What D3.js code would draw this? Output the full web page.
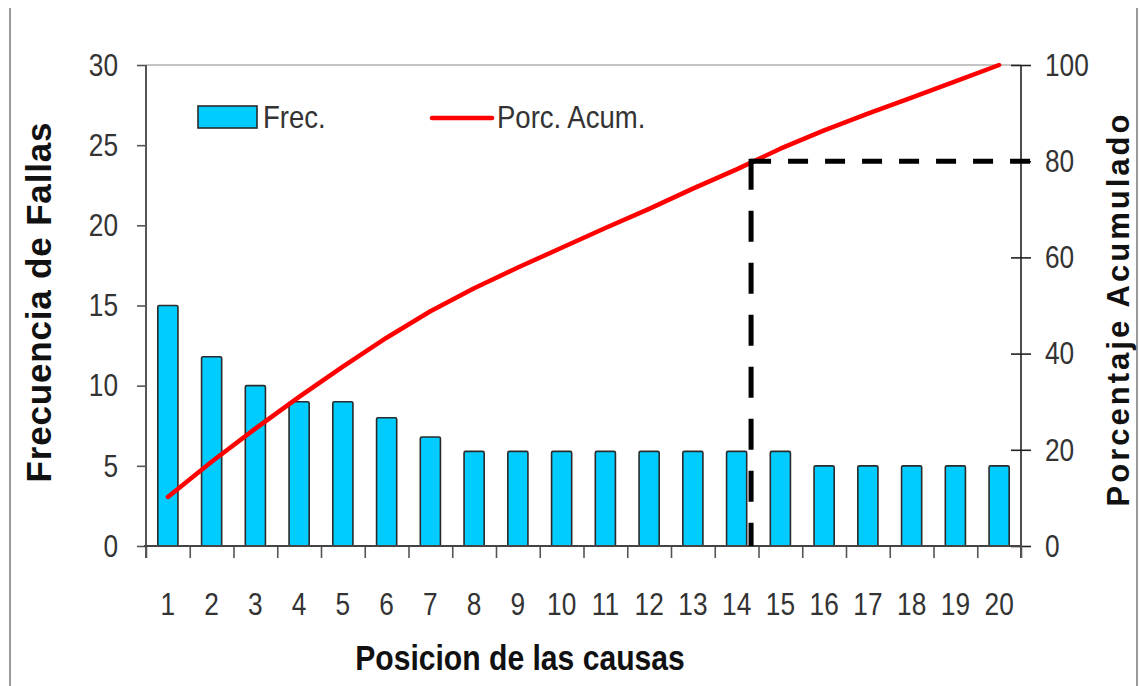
<!DOCTYPE html>
<html>
<head>
<meta charset="utf-8">
<script src="https://cdn.jsdelivr.net/npm/d3@7"></script>
<style>
  html, body { margin: 0; padding: 0; background: #fff; }
  svg { display: block; }
  text { font-family: "Liberation Sans", Arial, sans-serif; }
</style>
</head>
<body>
<svg id="chart" width="1139" height="686"></svg>
<script>
// Pareto data: failure frequency per cause and cumulative percentage
const causas = ["1","2","3","4","5","6","7","8","9","10","11","12","13","14","15","16","17","18","19","20"];
const frecuencia = [15, 11.8, 10, 9, 9, 8, 6.8, 5.9, 5.9, 5.9, 5.9, 5.9, 5.9, 5.9, 5.9, 5, 5, 5, 5, 5];
const porcAcum = [10.2, 17.5, 24.4, 31.0, 37.3, 43.3, 48.8, 53.6, 57.9, 62.0, 66.1, 70.1, 74.3, 78.3, 82.6, 86.4, 89.9, 93.2, 96.6, 100];
const ticksFrec = [0, 5, 10, 15, 20, 25, 30];
const ticksPorc = [0, 20, 40, 60, 80, 100];
const corteCausa = 14.33;   // vertical 80 % guide, in cause units
const cortePorc = 80;

const svg = d3.select("#chart");
const mLeft = 146, mRight = 1021, mTop = 65, mBottom = 546;

const x = d3.scaleBand().domain(causas).range([mLeft, mRight]).paddingInner(0.54).paddingOuter(0.27);
const xLin = d3.scaleLinear().domain([0.5, causas.length + 0.5]).range([mLeft, mRight]);
const yL = d3.scaleLinear().domain([0, 30]).range([mBottom, mTop]);
const yR = d3.scaleLinear().domain([0, 100]).range([mBottom, mTop]);

// squeeze text horizontally to imitate a narrow face
function condense(sel, k) {
  sel.each(function () {
    const w = this.getComputedTextLength();
    d3.select(this).attr("textLength", w * k).attr("lengthAdjust", "spacingAndGlyphs");
  });
}

// outer frame lines
svg.append("line").attr("x1", 10).attr("x2", 10).attr("y1", 8).attr("y2", 686)
  .attr("stroke", "#9a9a9a").attr("stroke-width", 2);
svg.append("line").attr("x1", 1137).attr("x2", 1137).attr("y1", 8).attr("y2", 686)
  .attr("stroke", "#9a9a9a").attr("stroke-width", 2);

// top border of plot area
svg.append("line").attr("x1", mLeft).attr("x2", mRight).attr("y1", mTop).attr("y2", mTop)
  .attr("stroke", "#8a8a8a").attr("stroke-width", 1.2);

// bars
svg.append("g").selectAll("rect").data(frecuencia).join("rect")
  .attr("x", (d, i) => x(causas[i]))
  .attr("y", d => yL(d))
  .attr("width", x.bandwidth())
  .attr("height", d => mBottom - yL(d))
  .attr("rx", 1.5)
  .attr("fill", "#00ccff")
  .attr("stroke", "#2a2a2a")
  .attr("stroke-width", 1.6);

// left axis
const gL = svg.append("g").attr("transform", `translate(${mLeft},0)`)
  .call(d3.axisLeft(yL).tickValues(ticksFrec).tickSizeInner(9).tickSizeOuter(0).tickPadding(19));
gL.select(".domain").remove();
gL.selectAll(".tick line").attr("stroke", "#555").attr("stroke-width", 1.6);
gL.selectAll("text").attr("font-size", 32).attr("fill", "#333").call(condense, 0.82);
svg.append("line").attr("x1", mLeft).attr("x2", mLeft).attr("y1", mTop).attr("y2", mBottom + 12)
  .attr("stroke", "#555").attr("stroke-width", 2);

// right axis
const gR = svg.append("g").attr("transform", `translate(${mRight},0)`)
  .call(d3.axisRight(yR).tickValues(ticksPorc).tickSizeInner(10).tickSizeOuter(0).tickPadding(14));
gR.select(".domain").remove();
gR.selectAll(".tick line").attr("x1", -10).attr("stroke", "#222").attr("stroke-width", 1.6);
gR.selectAll("text").attr("font-size", 32).attr("fill", "#333").call(condense, 0.82);
svg.append("line").attr("x1", mRight).attr("x2", mRight).attr("y1", mTop).attr("y2", mBottom + 12)
  .attr("stroke", "#222").attr("stroke-width", 1.6);

// bottom axis: boundary ticks and centred labels
const gB = svg.append("g").attr("transform", `translate(0,${mBottom})`)
  .call(d3.axisBottom(xLin).tickValues(d3.range(0.5, causas.length + 1, 1)).tickSizeInner(12).tickSizeOuter(0).tickFormat(""));
gB.select(".domain").remove();
gB.selectAll(".tick line").attr("stroke", "#555").attr("stroke-width", 1.6);
svg.append("line").attr("x1", mLeft - 2).attr("x2", mRight).attr("y1", mBottom).attr("y2", mBottom)
  .attr("stroke", "#444").attr("stroke-width", 2);

const gBL = svg.append("g").attr("transform", `translate(0,${mBottom})`)
  .call(d3.axisBottom(x).tickSize(0).tickPadding(46));
gBL.select(".domain").remove();
gBL.selectAll("text").attr("font-size", 32).attr("fill", "#333").call(condense, 0.82);

// cumulative percentage line
const line = d3.line().x((d, i) => x(causas[i]) + x.bandwidth() / 2).y(d => yR(d));
svg.append("path").datum(porcAcum)
  .attr("d", line)
  .attr("fill", "none")
  .attr("stroke", "#ff0000")
  .attr("stroke-width", 4.5)
  .attr("stroke-linejoin", "round")
  .attr("stroke-linecap", "round");

// 80 % guide lines
svg.append("line")
  .attr("x1", xLin(corteCausa)).attr("x2", mRight + 11)
  .attr("y1", yR(cortePorc)).attr("y2", yR(cortePorc))
  .attr("stroke", "#000").attr("stroke-width", 5).attr("stroke-dasharray", "20,17");
svg.append("line")
  .attr("x1", xLin(corteCausa)).attr("x2", xLin(corteCausa))
  .attr("y1", yR(cortePorc) - 2.5).attr("y2", mBottom)
  .attr("stroke", "#000").attr("stroke-width", 5).attr("stroke-dasharray", "31,21");

// legend
const leg = svg.append("g");
leg.append("rect").attr("x", 198).attr("y", 106).attr("width", 59).attr("height", 22)
  .attr("fill", "#00ccff").attr("stroke", "#2a2a2a").attr("stroke-width", 1.6);
leg.append("text").attr("x", 263).attr("y", 128).attr("font-size", 32).attr("fill", "#333")
  .text("Frec.").call(condense, 0.86);
leg.append("line").attr("x1", 432).attr("x2", 492).attr("y1", 118).attr("y2", 118)
  .attr("stroke", "#ff0000").attr("stroke-width", 4.5).attr("stroke-linecap", "round");
leg.append("text").attr("x", 497).attr("y", 128).attr("font-size", 32).attr("fill", "#333")
  .text("Porc. Acum.").call(condense, 0.86);

// axis titles
svg.append("text")
  .attr("transform", `translate(51,${(mTop + mBottom) / 2 - 3}) rotate(-90)`)
  .attr("text-anchor", "middle").attr("font-size", 35).attr("font-weight", "bold").attr("fill", "#111")
  .attr("textLength", 360).attr("lengthAdjust", "spacing")
  .text("Frecuencia de Fallas");
svg.append("text")
  .attr("transform", `translate(1129,${(mTop + mBottom) / 2 + 5}) rotate(-90)`)
  .attr("text-anchor", "middle").attr("font-size", 31).attr("font-weight", "bold").attr("fill", "#111")
  .attr("textLength", 392).attr("lengthAdjust", "spacing")
  .text("Porcentaje Acumulado");
svg.append("text")
  .attr("x", 520).attr("y", 670)
  .attr("text-anchor", "middle").attr("font-size", 35).attr("font-weight", "bold").attr("fill", "#111")
  .text("Posicion de las causas").call(condense, 0.86);
</script>
</body>
</html>
